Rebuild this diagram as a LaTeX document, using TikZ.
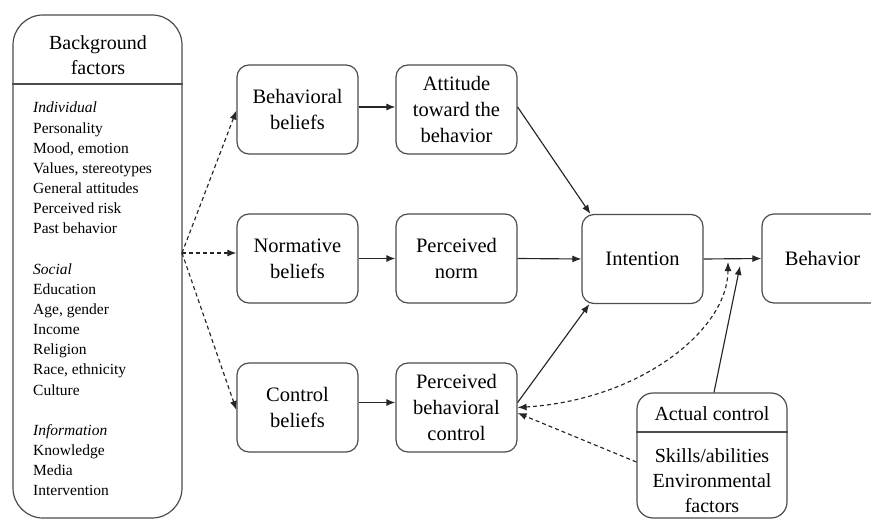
\documentclass[tikz,border=0pt]{standalone}
\usepackage{fontspec}
\setmainfont{Liberation Serif}
\usetikzlibrary{arrows.meta}
\tikzset{
  box/.style={draw=black!70, line width=1.2pt, rounded corners=12pt, inner sep=0pt,
    minimum width=121pt, minimum height=89pt, align=center,
    font=\fontsize{20.5}{26}\selectfont},
  conn/.style={draw=black!85, line width=1.15pt, -{Latex[length=9pt,width=7pt]}},
  dconn/.style={conn, dash pattern=on 4pt off 3pt},
  listtxt/.style={anchor=base west, inner sep=0pt, font=\fontsize{15.5}{20}\selectfont},
}
\begin{document}
\begin{tikzpicture}[x=1pt,y=-1pt]
\useasboundingbox (0,0) rectangle (871,519);
% background factors box
\node[draw=black!70, line width=1.2pt, rounded corners=30pt, minimum width=169pt, minimum height=503pt, inner sep=0pt] (bg) at (97.5,266.5) {};
\draw[draw=black!70, line width=1.2pt] (bg.west |- 0,84) -- (bg.east |- 0,84);
\node[align=center, inner sep=0pt, font=\fontsize{20}{25}\selectfont] (bgh) at (98,55) {Background\\ factors};
\foreach \t/\i [count=\n] in {
  {\textit{Individual}}/0, Personality/1, {Mood, emotion}/2, {Values, stereotypes}/3,
  General attitudes/4, Perceived risk/5, Past behavior/6,
  {\textit{Social}}/8, Education/9, {Age, gender}/10, Income/11, Religion/12,
  {Race, ethnicity}/13, Culture/14,
  {\textit{Information}}/16, Knowledge/17, Media/18, Intervention/19}
  \node[listtxt] (li\n) at (33,{113+20.15*\i}) {\t};
% main boxes
\node[box] (bb) at (297.5,109.5) {Behavioral\\ beliefs};
\node[box] (att) at (456.5,109.5) {Attitude\\ toward the\\ behavior};
\node[box] (nb) at (297.5,258.5) {Normative\\ beliefs};
\node[box] (pn) at (456.5,258.5) {Perceived\\ norm};
\node[box] (cb) at (297.5,407.5) {Control\\ beliefs};
\node[box] (pbc) at (456.5,407.5) {Perceived\\ behavioral\\ control};
\node[box] (int) at (642.5,259) {Intention};
\node[box] (beh) at (822.5,258.5) {Behavior};
% actual control box
\node[draw=black!70, line width=1.2pt, rounded corners=16pt, minimum width=150pt, minimum height=125pt, inner sep=0pt] (ac) at (712,455.5) {};
\draw[draw=black!70, line width=1.2pt] (ac.west |- 0,432) -- (ac.east |- 0,432);
\node[inner sep=0pt, font=\fontsize{20}{25}\selectfont] (ach) at (712,414) {Actual control};
\node[align=center, inner sep=0pt, font=\fontsize{20}{25}\selectfont] (acb) at (712,481) {Skills/abilities\\ Environmental\\ factors};
% connectors
\coordinate (src) at (182,253);
\coordinate (j1) at (728,262);
\coordinate (j2) at (740,266);
\draw[dconn] (src) -- ([yshift=-1pt]bb.west);
\draw[dconn] (src) -- (src -| nb.west);
\draw[dconn] (src) -- ([yshift=-2.5pt]cb.west);
\draw[conn] ([yshift=2.5pt]bb.east) -- ([yshift=2.5pt]att.west);
\draw[conn] (nb.east) -- (pn.west);
\draw[conn] ([yshift=5pt]cb.east) -- ([yshift=5pt]pbc.west);
\draw[conn] ([yshift=2.5pt]att.east) -- ([xshift=9pt]int.north west);
\draw[conn] (pn.east) -- (int.west);
\draw[conn] ([yshift=5pt]pbc.east) -- ([xshift=8pt]int.south west);
\draw[conn] (int.east) -- (beh.west);
\draw[conn] ([xshift=2pt]ac.north) -- (j2);
\draw[dconn, {Latex[length=9pt,width=7pt]}-{Latex[length=9pt,width=7pt]}] (pbc.east) .. controls (640,400) and (728,330) .. (j1);
\draw[dconn] ([yshift=-6.5pt]ac.west) -- ([yshift=-5.5pt]pbc.east);
\end{tikzpicture}
\end{document}
